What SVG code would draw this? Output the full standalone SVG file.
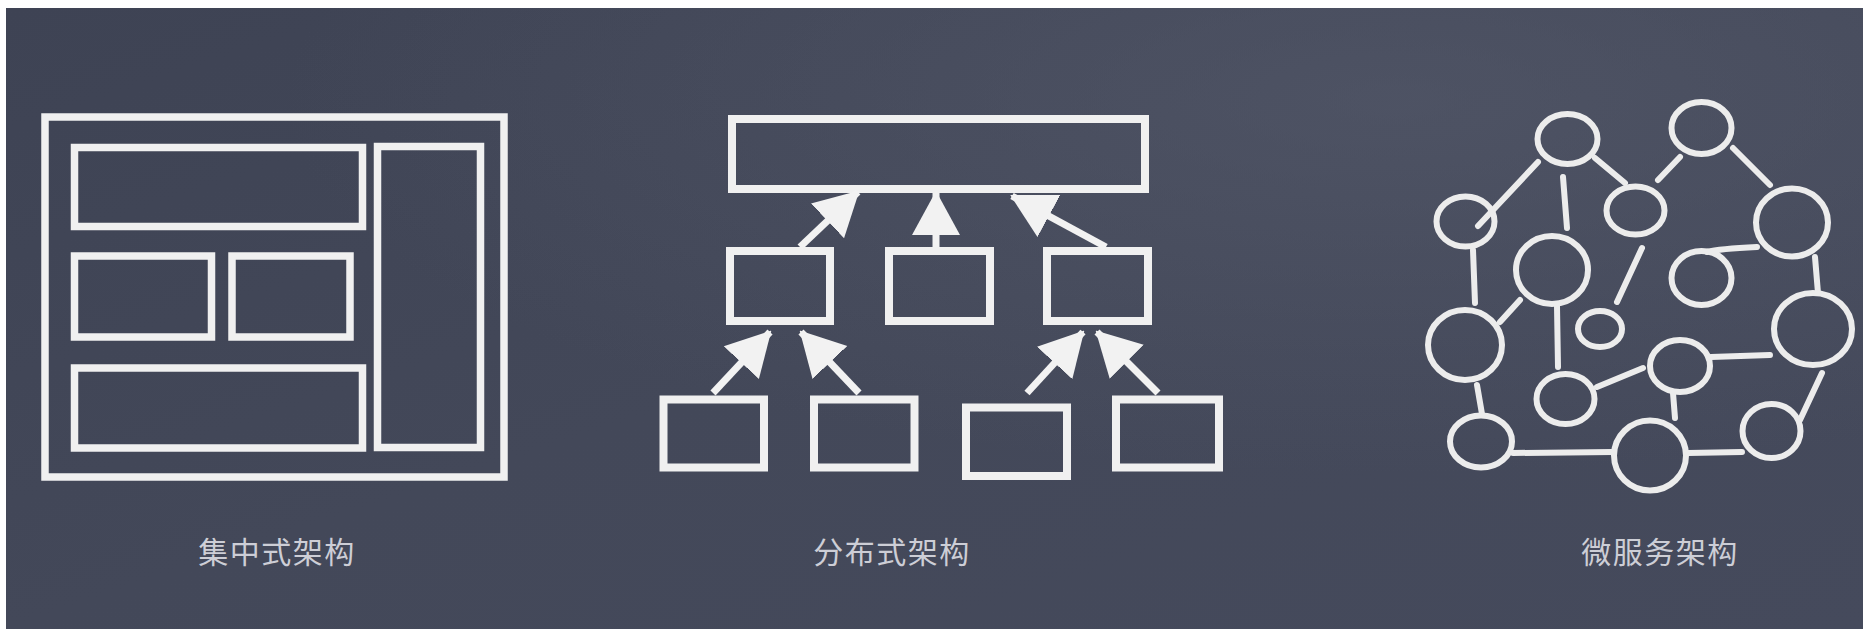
<svg xmlns="http://www.w3.org/2000/svg" width="1863" height="629" viewBox="0 0 1863 629">
<defs>
<linearGradient id="bg" x1="0" y1="0" x2="1" y2="1">
<stop offset="0" stop-color="#3e4354"/>
<stop offset="0.5" stop-color="#434859"/>
<stop offset="1" stop-color="#454a5c"/>
</linearGradient>
<radialGradient id="glow" cx="0.75" cy="0.15" r="0.6">
<stop offset="0" stop-color="#555a6b" stop-opacity="0.6"/>
<stop offset="1" stop-color="#555a6b" stop-opacity="0"/>
</radialGradient>
<marker id="head" markerUnits="userSpaceOnUse" markerWidth="44" markerHeight="50" viewBox="0 0 44 50" refX="42" refY="25" orient="auto">
<path d="M0,1 L44,25 L0,49 Z" fill="#f2f2f2"/>
</marker>
<style>
.box{fill:none;stroke:#f0f0f0;stroke-width:7.5}
.dbox{fill:none;stroke:#f0f0f0;stroke-width:8}
.arrow{stroke:#f2f2f2;stroke-width:7;fill:none;marker-end:url(#head)}
.node{fill:none;stroke:#ececec;stroke-width:6}
.link{stroke:#ececec;stroke-width:6;stroke-linecap:round;fill:none}
.label{font-family:"Noto Sans CJK SC","Noto Sans",sans-serif;font-size:30px;fill:#cdced6;text-anchor:middle;letter-spacing:1.5px}
</style>
</defs>
<rect x="0" y="0" width="1863" height="629" fill="#ffffff"/>
<rect x="6" y="8" width="1857" height="621" fill="url(#bg)"/>
<rect x="6" y="8" width="1857" height="621" fill="url(#glow)"/>

<g id="centralized">
<g id="c-outer"><rect class="box" x="45" y="117" width="459" height="360"/></g>
<g id="c-top"><rect class="box" x="74.5" y="147.5" width="288" height="79"/></g>
<g id="c-mid-left"><rect class="box" x="74.5" y="256" width="137" height="81"/></g>
<g id="c-mid-right"><rect class="box" x="232" y="256" width="118" height="81"/></g>
<g id="c-bottom"><rect class="box" x="74.5" y="368" width="288" height="80"/></g>
<g id="c-right"><rect class="box" x="377.5" y="146.5" width="103" height="301"/></g>
<text class="label" x="277" y="563">集中式架构</text>
</g>

<g id="distributed">
<g id="d-top"><rect class="dbox" x="732" y="119" width="413" height="70"/></g>
<g id="d-mid1"><rect class="dbox" x="730" y="251" width="100" height="70"/></g>
<g id="d-mid2"><rect class="dbox" x="889" y="251" width="101" height="70"/></g>
<g id="d-mid3"><rect class="dbox" x="1047" y="251" width="101" height="70"/></g>
<g id="d-bot1"><rect class="dbox" x="663.5" y="399.5" width="100.5" height="68"/></g>
<g id="d-bot2"><rect class="dbox" x="814" y="399.5" width="100.5" height="68"/></g>
<g id="d-bot3"><rect class="dbox" x="966" y="407.5" width="101" height="68.5"/></g>
<g id="d-bot4"><rect class="dbox" x="1116" y="399.5" width="103" height="68"/></g>
<g id="d-arrows">
<line class="arrow" x1="800" y1="247" x2="858" y2="192"/>
<line class="arrow" x1="936" y1="247" x2="936" y2="193"/>
<line class="arrow" x1="1106" y1="247" x2="1012" y2="196"/>
<line class="arrow" x1="713" y1="393" x2="770" y2="332"/>
<line class="arrow" x1="859" y1="393" x2="801" y2="332"/>
<line class="arrow" x1="1027" y1="393" x2="1083" y2="332"/>
<line class="arrow" x1="1158" y1="393" x2="1097" y2="332"/>
</g>
<text class="label" x="892" y="563">分布式架构</text>
</g>

<g id="microservices">
<g id="m-links">
<line class="link" x1="1538" y1="162" x2="1478" y2="226"/>
<line class="link" x1="1563" y1="177" x2="1567" y2="228"/>
<line class="link" x1="1595" y1="158" x2="1625" y2="183"/>
<line class="link" x1="1658" y1="180" x2="1680" y2="157"/>
<line class="link" x1="1733" y1="148" x2="1770" y2="185"/>
<line class="link" x1="1642" y1="248" x2="1617" y2="302"/>
<line class="link" x1="1473" y1="250" x2="1475" y2="303"/>
<line class="link" x1="1815" y1="257" x2="1818" y2="293"/>
<path class="link" d="M1757,247 C1735,248 1718,249 1707,252"/>
<line class="link" x1="1520" y1="300" x2="1500" y2="322"/>
<line class="link" x1="1557" y1="306" x2="1558" y2="367"/>
<line class="link" x1="1770" y1="355" x2="1711" y2="357"/>
<line class="link" x1="1643" y1="368" x2="1597" y2="387"/>
<line class="link" x1="1673" y1="393" x2="1675" y2="418"/>
<line class="link" x1="1477" y1="385" x2="1482" y2="414"/>
<line class="link" x1="1513" y1="453" x2="1613" y2="452"/>
<line class="link" x1="1688" y1="453" x2="1742" y2="452"/>
<line class="link" x1="1800" y1="420" x2="1822" y2="373"/>
</g>
<g id="m-a"><ellipse class="node" cx="1567.5" cy="139" rx="30" ry="25"/></g>
<g id="m-b"><ellipse class="node" cx="1701.5" cy="128" rx="30" ry="26"/></g>
<g id="m-c"><ellipse class="node" cx="1465.5" cy="221.5" rx="29" ry="25"/></g>
<g id="m-d"><ellipse class="node" cx="1635.5" cy="210.5" rx="29" ry="24"/></g>
<g id="m-e"><ellipse class="node" cx="1792" cy="222.5" rx="36" ry="34"/></g>
<g id="m-f"><ellipse class="node" cx="1552" cy="270" rx="36" ry="34"/></g>
<g id="m-g"><ellipse class="node" cx="1701.5" cy="278" rx="30" ry="27"/></g>
<g id="m-h"><ellipse class="node" cx="1465" cy="345" rx="37" ry="35"/></g>
<g id="m-i"><ellipse class="node" cx="1600" cy="329" rx="22" ry="18"/></g>
<g id="m-j"><ellipse class="node" cx="1813" cy="329" rx="39" ry="36"/></g>
<g id="m-k"><ellipse class="node" cx="1680" cy="366" rx="30" ry="26"/></g>
<g id="m-l"><ellipse class="node" cx="1565.5" cy="399" rx="29" ry="25"/></g>
<g id="m-m"><ellipse class="node" cx="1481" cy="441.5" rx="31" ry="26"/></g>
<g id="m-n"><ellipse class="node" cx="1650" cy="455.5" rx="36" ry="35"/></g>
<g id="m-o"><ellipse class="node" cx="1771.5" cy="431" rx="29" ry="27"/></g>
<text class="label" x="1660" y="563">微服务架构</text>
</g>
</svg>
